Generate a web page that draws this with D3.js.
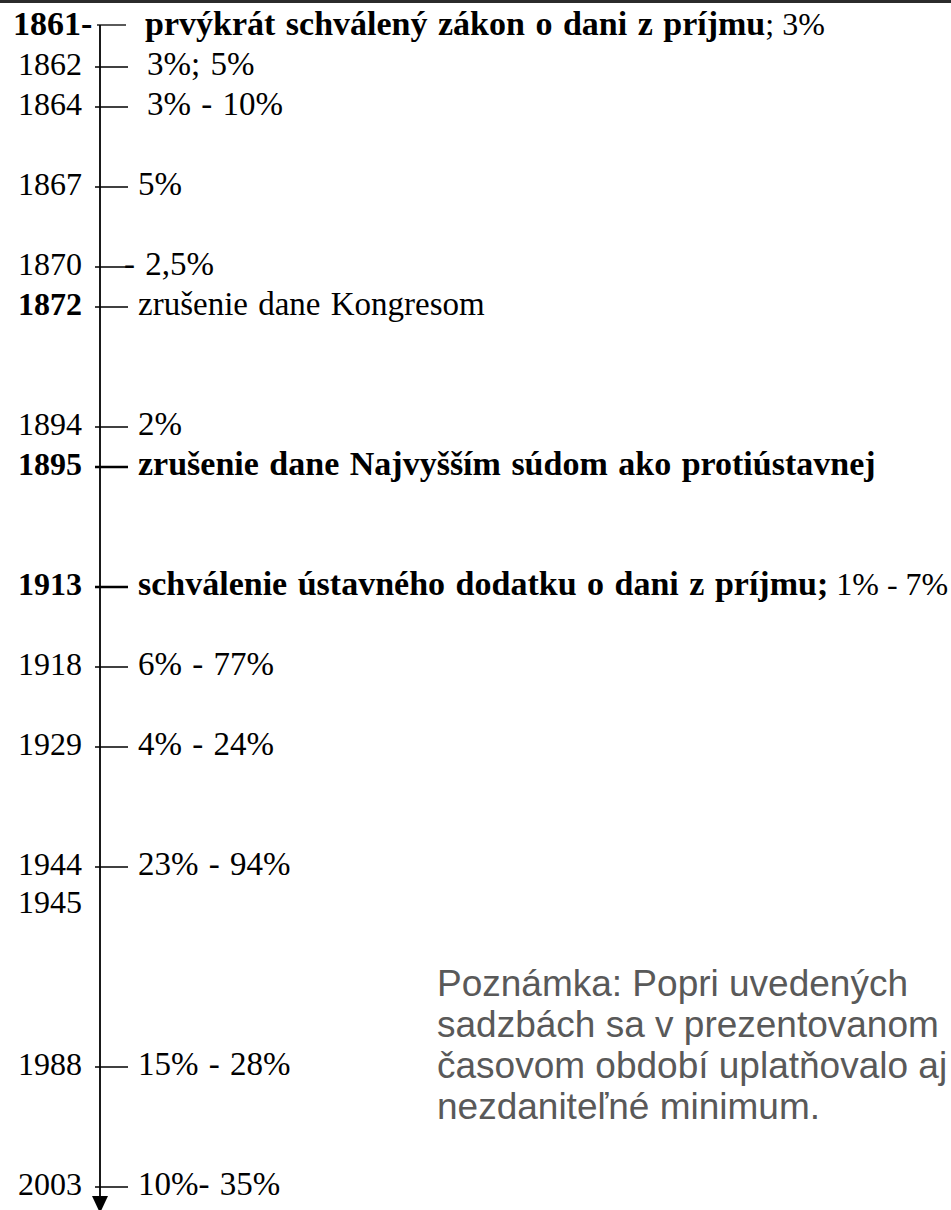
<!DOCTYPE html>
<html>
<head>
<meta charset="utf-8">
<script src="https://cdn.jsdelivr.net/npm/d3@7"></script>
<style>
  html, body { margin: 0; padding: 0; background: #fff; }
  svg { display: block; }
  text { white-space: pre; }
</style>
</head>
<body>
<svg id="chart"></svg>
<script>
// Timeline of US income tax rates, 1861–2003 (Slovak labels)
// Each event sits on a row slot of an evenly spaced vertical axis.

const YEARS      = ['1861', '1862', '1864', '1867', '1870', '1872', '1894', '1895', '1913', '1918', '1929', '1944', '1945', '1988', '2003'];
const SLOTS      = [0, 1, 2, 4, 6, 7, 10, 11, 14, 16, 18, 21, 22, 26, 29];
const YEAR_BOLD  = [true, false, false, false, false, true, false, true, true, false, false, false, false, false, false];
const HAS_TICK   = [true, true, true, true, true, true, true, true, true, true, true, true, false, true, true];
const LABEL_BOLD = [
    'prvýkrát schválený zákon o dani z príjmu', '', '', '', '', '', '',
    'zrušenie dane Najvyšším súdom ako protiústavnej',
    'schválenie ústavného dodatku o dani z príjmu;',
    '', '', '', '', '', ''
];
const LABEL_PLAIN = [
    '; 3%', '3%; 5%', '3% - 10%', '5%', '- 2,5%', 'zrušenie dane Kongresom', '2%', '',
    ' 1% - 7%', '6% - 77%', '4% - 24%', '23% - 94%', '', '15% - 28%', '10%- 35%'
];
const NOTE_LINES = [
    'Poznámka: Popri uvedených',
    'sadzbách sa v prezentovanom',
    'časovom období uplatňovalo aj',
    'nezdaniteľné minimum.'
];

const W = 951, H = 1210;
const AXIS_X = 100;
const SERIF = '"Liberation Serif", "Times New Roman", serif';
const SANS  = '"Liberation Sans", Arial, sans-serif';

// per-year tweaks of where a label starts
const LABEL_X = { '1861': 145, '1862': 147, '1864': 147, '1870': 124 };

const svg = d3.select('#chart').attr('width', W).attr('height', H);
svg.append('rect').attr('width', W).attr('height', H).attr('fill', '#fff');
svg.append('rect').attr('width', W).attr('height', 3).attr('fill', '#2b2b2b');

const y = d3.scaleLinear().domain([0, 29]).range([27, 1187]);

const rows = YEARS.map((yr, i) => ({
    year: yr, slot: SLOTS[i], yearBold: YEAR_BOLD[i], tick: HAS_TICK[i],
    bold: LABEL_BOLD[i], plain: LABEL_PLAIN[i]
}));

// ── Axis line + arrow ─────────────────────────────────────────────────────
svg.append('line')
    .attr('x1', AXIS_X).attr('x2', AXIS_X)
    .attr('y1', y(0) - 2).attr('y2', 1198)
    .attr('stroke', '#000').attr('stroke-width', 1.8);

svg.append('path')
    .attr('d', d3.line()([[AXIS_X - 8, 1196], [AXIS_X + 8, 1196], [AXIS_X, 1213]]) + 'Z')
    .attr('fill', '#000');

// ── Ticks ──────────────────────────────────────────────────────────────────
svg.append('g').selectAll('line')
    .data(rows.filter(d => d.tick))
    .join('line')
    .attr('x1', d => d.slot === 0 ? AXIS_X - 3 : AXIS_X - 5)
    .attr('x2', d => d.slot === 0 ? 126 : 128)
    .attr('y1', d => y(d.slot) - (d.slot === 0 ? 2 : 0))
    .attr('y2', d => y(d.slot) - (d.slot === 0 ? 2 : 0))
    .attr('stroke', '#000')
    .attr('stroke-width', d => (d.bold && d.slot !== 0) ? 2.6 : 1.3);

// ── Year labels ────────────────────────────────────────────────────────────
svg.append('g').selectAll('text')
    .data(rows)
    .join('text')
    .attr('x', d => d.slot === 0 ? 13 : 82)
    .attr('y', d => y(d.slot) + 8 - (d.slot === 22 ? 2 : 0))
    .attr('text-anchor', d => d.slot === 0 ? 'start' : 'end')
    .attr('font-family', SERIF)
    .attr('font-size', d => d.slot === 0 ? 34 : 32)
    .attr('font-weight', d => d.yearBold ? 'bold' : 'normal')
    .attr('fill', '#000')
    .text(d => d.slot === 0 ? d.year + '-' : d.year);

// ── Event labels ───────────────────────────────────────────────────────────
const lbl = svg.append('g').selectAll('text')
    .data(rows.filter(d => d.bold || d.plain))
    .join('text')
    .attr('x', d => LABEL_X[d.year] ?? 138)
    .attr('y', d => y(d.slot) + 8)
    .attr('font-family', SERIF)
    .attr('font-size', 33)
    .attr('fill', '#000');

lbl.filter(d => d.bold).append('tspan')
    .attr('font-weight', 'bold')
    .attr('font-size', 34)
    .attr('word-spacing', 2)
    .text(d => d.bold);
lbl.filter(d => d.plain).append('tspan')
    .attr('font-size', d => d.bold ? 32 : 33)
    .attr('word-spacing', d => d.bold ? 0 : 2)
    .text(d => d.plain);

// ── Note ───────────────────────────────────────────────────────────────────
svg.append('text')
    .attr('font-family', SANS)
    .attr('font-size', 37)
    .attr('fill', '#595959')
    .selectAll('tspan')
    .data(NOTE_LINES)
    .join('tspan')
    .attr('x', 437)
    .attr('y', (d, i) => 996 + i * 41)
    .text(d => d);
</script>
</body>
</html>
